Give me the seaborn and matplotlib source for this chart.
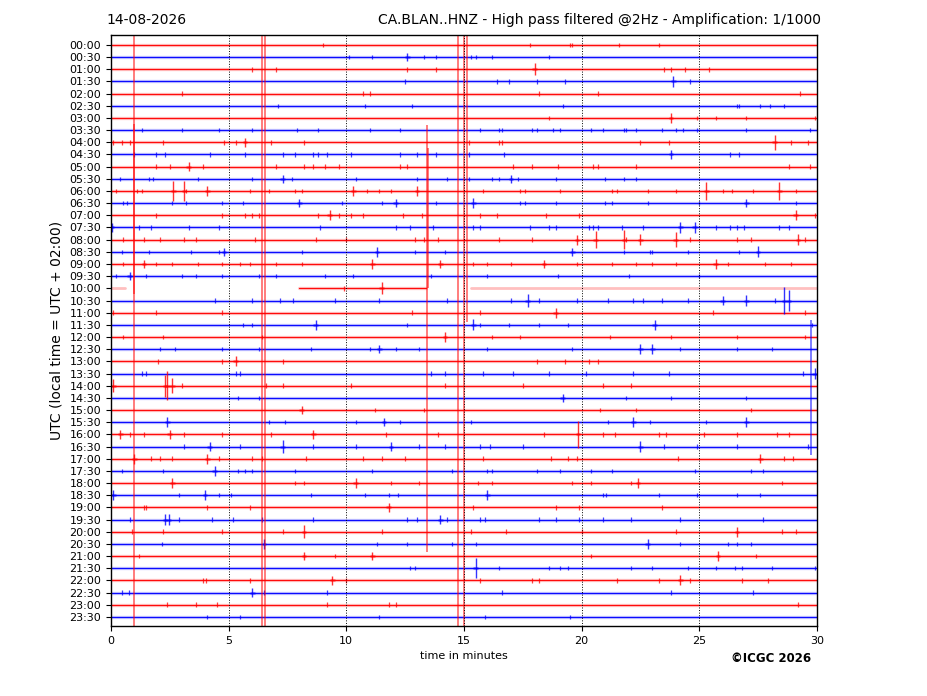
import numpy as np
import pandas as pd
import matplotlib
matplotlib.use("Agg")
import matplotlib.pyplot as plt
import seaborn as sns

# helicorder rows: 48 half-hour lines, 30 minutes each
row_labels = ["%02d:%02d" % (h, m) for h in range(24) for m in (0, 30)]

# small ticks (minute positions)
small_ticks = [
    [9.0, 17.8, 19.5, 19.6, 21.6, 23.3],
    [10.1, 11.1, 13.3, 13.8, 15.3, 15.5, 16.2, 18.6],
    [6.0, 7.0, 12.6, 13.8, 23.5, 23.8, 24.4, 25.4],
    [12.5, 16.4, 16.9, 18.1, 19.3, 24.6],
    [3.0, 10.7, 11.0, 18.2, 20.7, 29.3],
    [7.1, 10.8, 12.8, 19.2, 26.6, 26.7, 27.6, 28.0, 28.6],
    [18.6, 24.9, 25.7, 27.0, 29.9],
    [1.3, 3.0, 4.6, 6.0, 7.9, 8.8, 11.0, 12.3, 15.7, 16.5, 16.6, 17.9, 18.1, 18.8, 19.1,
     20.4, 20.9, 21.8, 21.9, 22.3, 23.4, 24.0, 24.3, 24.9, 27.0, 29.7],
    [0.1, 0.45, 0.8, 2.2, 4.8, 5.3, 6.8, 8.2, 15.2, 16.5, 16.6, 22.5, 23.7, 28.9, 29.6],
    [1.0, 1.9, 2.3, 4.2, 5.7, 7.3, 7.8, 8.6, 8.8, 9.2, 10.2, 12.3, 13.0, 13.8, 15.2, 16.7,
     26.3, 26.7],
    [1.9, 2.5, 3.9, 7.0, 8.2, 8.6, 9.1, 9.7, 12.3, 12.6, 17.1, 17.9, 19.0, 20.5, 20.7, 22.3,
     28.8, 29.7],
    [0.4, 1.6, 1.8, 3.7, 6.0, 7.7, 10.4, 13.0, 14.3, 15.2, 16.2, 16.5, 17.3, 18.9, 21.0,
     21.8, 22.3],
    [0.2, 1.1, 1.3, 3.2, 5.9, 6.7, 7.8, 8.1, 10.9, 11.4, 11.9, 15.8, 17.4, 17.6, 19.1, 21.3,
     21.5, 22.8, 24.0, 26.0, 26.4, 27.3, 29.1],
    [0.5, 0.7, 2.6, 3.2, 4.7, 5.6, 9.8, 11.5, 13.8, 17.4, 17.6, 18.9, 21.0, 21.3, 22.8, 25.0,
     29.1],
    [1.9, 4.7, 5.7, 6.0, 6.3, 8.8, 9.7, 10.2, 10.7, 12.4, 13.2, 15.7, 16.4, 18.5, 19.9, 29.9],
    [1.2, 1.7, 3.3, 4.6, 8.9, 12.1, 12.7, 13.7, 15.4, 15.7, 17.8, 18.6, 18.9, 20.3, 20.5,
     20.7, 21.7, 22.6, 25.7, 26.3, 26.6, 26.9, 28.4, 28.8],
    [0.5, 1.4, 2.1, 3.1, 3.6, 6.1, 8.7, 10.0, 12.9, 13.3, 13.9, 16.5, 17.9, 21.9, 24.6, 26.6,
     27.2, 29.5],
    [0.45, 1.6, 3.4, 4.6, 8.1, 12.9, 14.2, 21.8, 22.9, 23.0, 24.5, 26.7],
    [0.5, 1.9, 2.6, 3.7, 4.7, 5.5, 5.9, 7.0, 8.1, 15.4, 16.0, 17.0, 19.8, 21.3, 22.3, 23.0,
     24.0, 26.2, 27.8, 28.9],
    [0.2, 1.5, 3.0, 3.6, 4.7, 6.3, 7.0, 9.1, 10.3, 13.6, 16.0, 19.0, 22.0, 25.0],
    [9.9],
    [4.4, 6.0, 7.2, 7.75, 9.5, 11.4, 14.3, 17.0, 18.2, 19.8, 21.1, 22.2, 22.6, 23.4, 24.5, 28.2],
    [0.1, 1.9, 4.7, 12.8, 15.7, 25.6, 29.5],
    [5.6, 6.0, 12.6, 15.7, 16.9, 18.2, 19.4, 29.8],
    [0.5, 2.2, 6.4, 16.2, 17.4, 21.2, 23.8, 26.6, 29.5],
    [2.1, 2.7, 4.7, 6.3, 8.5, 11.0, 12.1, 13.1, 16.0, 19.6, 24.2, 26.6, 28.1],
    [2.0, 4.7, 7.3, 18.1, 19.3, 20.3, 20.7],
    [1.3, 1.5, 5.3, 5.5, 13.6, 14.2, 15.8, 17.1, 18.6, 20.2, 22.2, 23.7, 29.4],
    [3.0, 6.6, 7.3, 10.2, 14.2, 17.5, 20.9, 22.1],
    [5.4, 6.3, 21.9, 23.8, 27.0],
    [11.2, 13.3, 20.8, 22.3, 27.2],
    [6.7, 7.4, 10.4, 12.3, 15.3, 21.1, 22.9, 25.3],
    [0.8, 1.4, 3.1, 4.7, 6.8, 11.7, 13.9, 18.4, 20.9, 21.4, 23.3, 23.6, 25.2, 26.6, 28.3, 28.8],
    [3.1, 5.5, 8.6, 10.4, 13.1, 14.2, 15.7, 16.1, 17.5, 23.5, 24.9, 26.6, 29.6],
    [1.7, 2.1, 2.6, 4.6, 6.0, 6.4, 8.3, 10.7, 11.5, 12.5, 15.8, 18.7, 19.4, 19.8, 24.1, 28.6,
     29.0],
    [0.45, 2.2, 5.4, 5.7, 6.0, 7.8, 11.1, 14.5, 16.0, 16.2, 18.1, 19.1, 20.4, 21.3, 24.8,
     27.2, 27.7],
    [7.8, 8.2, 11.9, 13.1, 15.6, 16.2, 19.6, 20.4, 22.1, 28.5],
    [2.9, 4.6, 5.1, 8.5, 10.8, 11.8, 12.2, 20.9, 21.05, 23.3, 24.9, 26.6, 27.6],
    [1.4, 1.5, 4.1, 5.9, 15.4, 18.9, 19.9, 23.4],
    [0.8, 2.9, 4.3, 5.2, 6.4, 8.6, 12.6, 13.0, 14.3, 15.7, 15.9, 18.2, 18.9, 19.9, 20.9, 22.1,
     24.2, 27.7],
    [0.9, 2.2, 4.7, 7.3, 11.5, 15.3, 16.8, 20.0, 24.0, 28.5, 29.1],
    [2.15, 11.3, 12.6, 14.5, 15.5, 24.2, 26.2, 26.6, 27.2],
    [1.2, 9.5, 20.4, 27.4],
    [12.7, 12.9, 16.5, 18.6, 19.1, 19.4, 22.1, 23.0, 24.5, 25.7, 26.5, 26.8, 28.1, 29.9],
    [3.9, 4.05, 5.9, 10.0, 15.7, 17.9, 18.2, 21.5, 23.3, 24.6, 26.8, 27.9],
    [0.45, 0.75, 6.5, 9.2, 16.6, 23.8, 27.3],
    [2.4, 3.6, 4.5, 9.2, 11.8, 12.1, 29.2],
    [4.1, 5.5, 11.4, 15.9, 19.5],
]

# larger bursts: (row, minute, half amplitude in row units)
bursts = [
    (1, 12.6, 0.35), (2, 18.0, 0.5), (3, 23.9, 0.45), (6, 23.8, 0.4),
    (8, 5.7, 0.35), (8, 28.2, 0.6), (9, 23.8, 0.4), (10, 3.3, 0.35),
    (11, 7.3, 0.35), (11, 17.0, 0.35),
    (12, 2.65, 0.8), (12, 3.1, 0.8), (12, 4.1, 0.4), (12, 10.3, 0.4), (12, 13.0, 0.4),
    (12, 25.3, 0.7), (12, 28.4, 0.7),
    (13, 8.0, 0.35), (13, 12.1, 0.35), (13, 15.4, 0.4), (13, 27.0, 0.35),
    (14, 9.3, 0.4), (14, 29.1, 0.4),
    (15, 0.05, 0.35), (15, 24.2, 0.45), (15, 24.8, 0.45),
    (16, 19.8, 0.4), (16, 20.6, 0.7), (16, 21.8, 0.8), (16, 22.5, 0.45), (16, 24.0, 0.6),
    (16, 29.2, 0.45),
    (17, 4.8, 0.35), (17, 11.3, 0.4), (17, 19.6, 0.35), (17, 27.5, 0.45),
    (18, 1.4, 0.35), (18, 11.1, 0.4), (18, 14.0, 0.35), (18, 18.4, 0.35), (18, 25.7, 0.45),
    (19, 0.8, 0.35), (20, 11.5, 0.5),
    (21, 17.7, 0.5), (21, 26.0, 0.4), (21, 27.0, 0.45), (21, 28.6, 1.15), (21, 28.8, 0.9),
    (22, 18.9, 0.4), (23, 8.7, 0.4), (23, 15.4, 0.45), (23, 23.1, 0.4), (24, 14.2, 0.4),
    (25, 11.4, 0.35), (25, 22.5, 0.4), (25, 23.0, 0.4), (26, 5.3, 0.4), (27, 29.9, 0.45),
    (28, 0.1, 0.55), (28, 2.3, 0.9), (28, 2.4, 1.2), (28, 2.6, 0.6),
    (29, 19.2, 0.35), (30, 8.1, 0.35),
    (31, 2.4, 0.4), (31, 11.6, 0.35), (31, 22.2, 0.4), (31, 27.0, 0.4),
    (32, 0.4, 0.35), (32, 2.5, 0.35), (32, 8.6, 0.35), (32, 19.85, 1.1),
    (33, 4.2, 0.35), (33, 7.3, 0.5), (33, 11.9, 0.35), (33, 22.5, 0.45),
    (34, 1.0, 0.4), (34, 4.1, 0.4), (34, 27.6, 0.35), (35, 4.4, 0.4),
    (36, 2.6, 0.4), (36, 10.4, 0.4), (36, 22.4, 0.45),
    (37, 0.1, 0.4), (37, 4.0, 0.4), (37, 16.0, 0.4), (38, 11.8, 0.35),
    (39, 2.3, 0.45), (39, 2.45, 0.45), (39, 14.0, 0.4),
    (40, 8.2, 0.55), (40, 26.6, 0.4), (41, 6.5, 0.4), (41, 22.8, 0.4),
    (42, 8.2, 0.35), (42, 11.1, 0.35), (42, 25.8, 0.45), (43, 15.5, 0.8),
    (44, 9.4, 0.35), (44, 24.2, 0.4), (45, 6.0, 0.4),
]

# very large (clipped) signals crossing many rows: (minute, source row, rows up, rows down)
clipped = [
    (1.0, 20, 21.0, 28.0), (0.96, 20, 13.5, 0.5),
    (6.42, 24, 25.0, 24.0), (6.54, 24, 25.0, 24.0),
    (13.42, 20, 13.4, 21.7), (13.48, 20, 11.5, 0.0),
    (14.74, 24, 25.0, 24.0),
    (15.0, 22, 23.0, 26.0), (15.12, 22, 23.0, 0.8),
    (29.75, 27, 4.4, 6.7),
]

# row 10:00 has gaps / weak segments (start, end, quality)
row20_segments = [(0.0, 0.6, "weak"), (8.0, 13.4, "ok"), (15.3, 30.0, "weak")]

RED, BLUE = "#ff0000", "#0000ff"


def row_color(r):
    return RED if r % 2 == 0 else BLUE


# baseline segments table
recs = []
seg_id = 0
for r in range(len(row_labels)):
    segs = row20_segments if r == 20 else [(0.0, 30.0, "ok")]
    for a, b, q in segs:
        for m in (a, b):
            recs.append({"seg": seg_id, "minute": m, "row": r, "quality": q,
                         "trace": "even" if r % 2 == 0 else "odd"})
        seg_id += 1
base = pd.DataFrame(recs)

sns.set_style("ticks")
plt.rcParams.update({"text.color": "black", "axes.labelcolor": "black",
                     "xtick.color": "black", "ytick.color": "black"})
fig = plt.figure(figsize=(9.27, 6.96), dpi=100)
ax = fig.add_axes([0.1197, 0.1006, 0.7616, 0.8491])

pal = {"even": RED, "odd": BLUE}
ok = base[base.quality == "ok"]
weak = base[base.quality == "weak"]
# noise band + core line
sns.lineplot(data=ok, x="minute", y="row", units="seg", estimator=None, hue="trace",
             palette=pal, legend=False, sort=False, lw=2.4, alpha=0.2, ax=ax)
sns.lineplot(data=ok, x="minute", y="row", units="seg", estimator=None, hue="trace",
             palette=pal, legend=False, sort=False, lw=0.9, alpha=0.95, ax=ax)
sns.lineplot(data=weak, x="minute", y="row", units="seg", estimator=None, hue="trace",
             palette=pal, legend=False, sort=False, lw=2.0, alpha=0.25, ax=ax)

# small ticks
for r, mins in enumerate(small_ticks):
    ax.vlines(np.array(mins), r - 0.18, r + 0.18, colors=row_color(r), lw=0.9, alpha=0.75)

# bursts
for r, m, a in bursts:
    ax.vlines(m, r - a, r + a, colors=row_color(r), lw=1.0, alpha=0.8)
    ax.hlines(r, m - 0.1, m + 0.1, colors=row_color(r), lw=1.8, alpha=0.5)

# clipped big signals
for m, r, up, down in clipped:
    ax.vlines(m, r - up, r + down, colors=row_color(r), lw=1.2, alpha=0.6)

ax.set_xlim(0, 30)
ax.set_ylim(47.75, -0.82)
ax.set_xticks(range(0, 31, 5))
ax.set_yticks(range(len(row_labels)))
ax.set_yticklabels(row_labels)
ax.tick_params(axis="both", labelsize=8, length=3.5, width=0.8, color="k", labelcolor="k")
ax.xaxis.grid(True, linestyle=":", color="k", lw=0.7)
ax.set_axisbelow(False)
for s in ax.spines.values():
    s.set_color("k")
    s.set_linewidth(1.0)

ax.set_xlabel("time in minutes", fontsize=8)
ax.set_ylabel("UTC (local time = UTC + 02:00)", fontsize=10)

fig.text(106 / 927, 1 - 20 / 696, "14-08-2026", fontsize=10, va="center", ha="left")
fig.text(821 / 927, 1 - 20 / 696,
         "CA.BLAN..HNZ - High pass filtered @2Hz - Amplification: 1/1000",
         fontsize=10, va="center", ha="right")
fig.text(811 / 927, 1 - 658 / 696, "\u00a9ICGC 2026", fontsize=8.5, fontweight="bold",
         va="center", ha="right")

fig.savefig("out.png", dpi=100)
